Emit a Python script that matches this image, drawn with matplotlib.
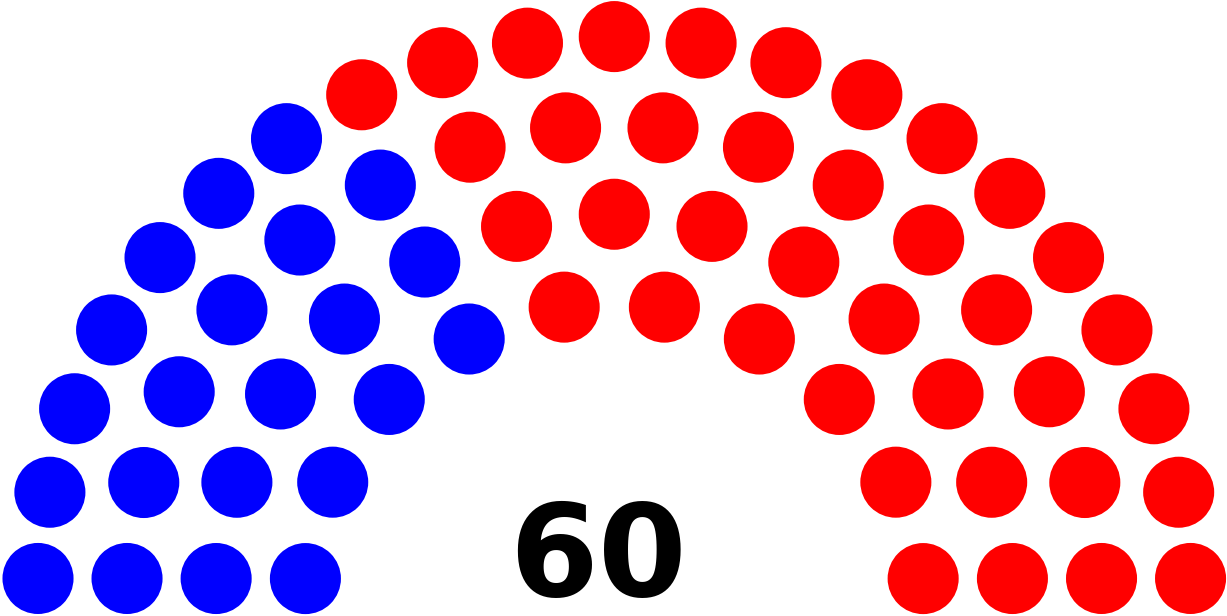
import math

import matplotlib

matplotlib.use("Agg")
import matplotlib.pyplot as plt
from matplotlib.patches import Circle

# Seats per party, left to right
parties = ["Blue", "Red"]
seats = [22, 38]
colors = ["#0000FF", "#FF0000"]

# Cumulative seat capacities used to pick the number of rows
totals = [0, 3, 15, 33, 61, 95, 138, 189, 247, 313, 388]


def seat_positions(n):
    rows = next(i for i, t in enumerate(totals) if t >= n)
    radius = 0.4 / rows
    pos = []
    for i in range(1, rows):
        j_count = int(float(n) / totals[rows] * math.pi
                      / (2 * math.asin(2.0 / (3.0 * rows + 4.0 * i - 2.0))))
        r = (3.0 * rows + 4.0 * i - 2.0) / (4.0 * rows)
        for j in range(j_count):
            a = j * (math.pi - 2 * math.sin(radius / r)) / (j_count - 1) + math.sin(radius / r)
            pos.append((a, r * math.cos(a) + 1.75, r * math.sin(a)))
    j_count = n - len(pos)
    r = (7.0 * rows - 2.0) / (4.0 * rows)
    for j in range(j_count):
        a = j * (math.pi - 2 * math.sin(radius / r)) / (j_count - 1) + math.sin(radius / r)
        pos.append((a, r * math.cos(a) + 1.75, r * math.sin(a)))
    pos.sort(reverse=True)
    return pos, radius


total = sum(seats)
pos, radius = seat_positions(total)

fig = plt.figure(figsize=(12.27, 6.16), dpi=100)
ax = fig.add_axes([0, 0, 1, 1])
ax.set_xlim(0.0211, 0.0211 + 1227 / 355.3)
ax.set_ylim(1.728 - 616 / 355.3, 1.728)
ax.set_aspect("equal")
ax.axis("off")

k = 0
for count, col in zip(seats, colors):
    for _ in range(count):
        _, x, y = pos[k]
        ax.add_patch(Circle((x, y), radius, color=col, lw=0))
        k += 1

ax.text(1.704, 0.05, str(total), ha="center", va="baseline",
        fontsize=92, fontweight="bold", family="DejaVu Sans")

fig.savefig("out.png", dpi=100)
